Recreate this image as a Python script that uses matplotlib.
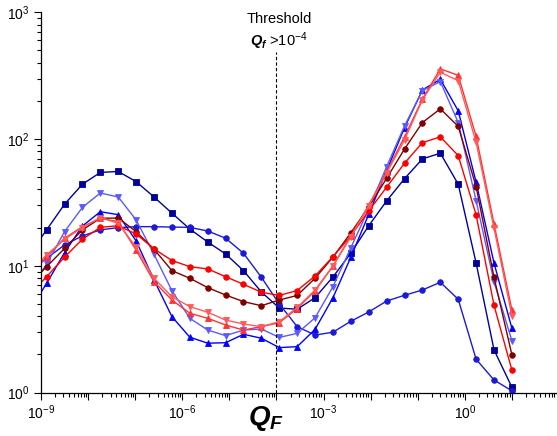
import math
import matplotlib
matplotlib.use("Agg")
import matplotlib.pyplot as plt
from matplotlib.ticker import LogLocator, FuncFormatter, NullFormatter

plt.rcParams["font.family"] = ["Liberation Sans", "DejaVu Sans"]
plt.rcParams["mathtext.fontset"] = "custom"
plt.rcParams["mathtext.rm"] = "Liberation Sans"
plt.rcParams["mathtext.it"] = "Liberation Sans:italic"
plt.rcParams["mathtext.bf"] = "Liberation Sans:bold"
plt.rcParams["mathtext.bfit"] = "Liberation Sans:bold:italic"

# log10 of Q_F sample points (first one lies just left of the axis)
qf_exp = [-9.26, -8.88, -8.50, -8.12, -7.74, -7.36, -6.98, -6.60, -6.22, -5.84,
          -5.46, -5.08, -4.70, -4.32, -3.94, -3.56, -3.18, -2.80, -2.42, -2.04,
          -1.66, -1.28, -0.90, -0.52, -0.14, 0.24, 0.62, 1.00]
THRESHOLD = 1e-4

sq_navy = [12.2, 19.2, 30.6, 44.0, 54.5, 55.5, 46.1, 34.9, 26.0, 19.5, 15.4, 12.4, 9.15, 6.21,
           4.64, 4.54, 5.60, 8.16, 12.6, 20.7, 32.5, 48.7, 69.7, 77.3, 44.0, 10.5, 2.17, 1.10]
circ_blue = [8.93, 11.46, 14.6, 17.2, 19.2, 20.0, 20.35, 20.35, 20.2, 20.1, 18.8, 16.5, 12.55, 8.11,
             4.99, 3.31, 2.84, 2.99, 3.65, 4.32, 5.27, 5.85, 6.44, 7.41, 5.44, 1.83, 1.255, 1.03]
tri_up_blue = [4.32, 7.27, 12.7, 20.6, 26.7, 25.3, 15.7, 7.73, 3.97, 2.73, 2.45, 2.47, 2.88, 2.68,
               2.26, 2.30, 3.15, 5.60, 11.7, 25.5, 56.3, 123, 244, 296, 167, 45.6, 10.5, 3.21]
tri_dn_lblue = [6.44, 10.3, 18.6, 28.9, 37.5, 34.9, 23.0, 12.3, 6.36, 3.85, 3.11, 2.81, 3.11, 3.17,
                2.72, 2.93, 3.89, 6.84, 13.9, 28.1, 60.6, 127, 241, 284, 135, 32.6, 7.49, 2.56]
circ_dred = [7.06, 9.84, 13.7, 19.2, 23.7, 23.8, 18.6, 13.5, 9.15, 7.97, 6.72, 5.88, 5.21, 4.84,
             5.37, 5.83, 7.97, 11.7, 18.2, 29.1, 49.0, 83.5, 135, 173, 126, 42.1, 8.11, 1.98]
circ_red = [5.88, 8.20, 11.7, 16.2, 20.1, 20.7, 17.8, 13.6, 11.0, 9.84, 9.44, 8.20, 7.14, 6.18,
            5.83, 6.38, 8.31, 11.8, 17.2, 27.1, 41.7, 64.5, 93.7, 104, 74.0, 25.2, 4.88, 1.50]
tri_up_lred = [8.46, 11.7, 16.5, 20.35, 23.7, 22.3, 13.3, 7.49, 5.37, 4.22, 3.85, 3.41, 3.11, 3.31,
               3.55, 4.60, 6.33, 9.96, 17.2, 30.2, 55.0, 104, 207, 358, 318, 105, 21.4, 4.48]
tri_dn_lred = [8.77, 12.2, 16.2, 20.0, 24.0, 21.6, 14.0, 7.97, 5.70, 4.76, 4.30, 3.73, 3.47, 3.31,
               3.62, 4.69, 6.44, 9.96, 16.9, 29.6, 54.0, 98.4, 204, 336, 289, 94.0, 19.8, 4.04]

qf = [10 ** e for e in qf_exp]

series = [
    (sq_navy, "s", "#00009c"),
    (circ_blue, "o", "#1a1ad8"),
    (tri_up_blue, "^", "#0000ff"),
    (tri_dn_lblue, "v", "#5a5aff"),
    (circ_dred, "o", "#800000"),
    (circ_red, "o", "#ff0000"),
    (tri_up_lred, "^", "#ff3333"),
    (tri_dn_lred, "v", "#ff5a5a"),
]

fig = plt.figure(figsize=(5.57, 4.36), dpi=100)
ax = fig.add_axes([41 / 557, 43.5 / 436, 518 / 557, 380.2 / 436])

for ys, mk, col in series:
    ax.plot(qf, ys, marker=mk, color=col, lw=1.0, markersize=4.0, markeredgewidth=0.6)

ax.axvline(THRESHOLD, ymin=0, ymax=0.896, color="black", lw=0.8, ls=(0, (3, 2)))

ax.set_xscale("log")
ax.set_yscale("log")
ax.set_xlim(1e-9, 1e2)
ax.set_ylim(1, 1e3)

ax.spines["top"].set_visible(False)
ax.spines["right"].set_visible(False)
for s in ["left", "bottom"]:
    ax.spines[s].set_linewidth(0.9)

ax.xaxis.set_major_locator(LogLocator(base=10, numticks=30))
ax.xaxis.set_minor_locator(LogLocator(base=10, subs=range(2, 10), numticks=30))
ax.xaxis.set_minor_formatter(NullFormatter())


def xfmt(v, pos):
    e = int(round(math.log10(v)))
    if e % 3 == 0:
        return r"$10^{%d}$" % e
    return ""


ax.xaxis.set_major_formatter(FuncFormatter(xfmt))
ax.yaxis.set_major_locator(LogLocator(base=10, numticks=10))
ax.yaxis.set_minor_locator(LogLocator(base=10, subs=range(2, 10), numticks=10))
ax.yaxis.set_minor_formatter(NullFormatter())
ax.yaxis.set_major_formatter(FuncFormatter(lambda v, p: r"$10^{%d}$" % round(math.log10(v))))

ax.tick_params(which="major", direction="out", length=5, width=0.8, labelsize=10, pad=3)
ax.tick_params(which="minor", direction="out", length=3, width=0.8)

fig.text(279 / 557, 1 - 19 / 436, "Threshold", ha="center", va="center", fontsize=10.5)
fig.text(279 / 557, 1 - 41 / 436, r"$\mathbfit{Q}_{\mathbfit{f}}$ >10$^{-4}$",
         ha="center", va="center", fontsize=10.5)
fig.text(266 / 557, 1 - 418 / 436, r"$\mathbfit{Q}_{\mathbfit{F}}$", ha="center", va="center", fontsize=20)

fig.savefig("out.png", dpi=100)
